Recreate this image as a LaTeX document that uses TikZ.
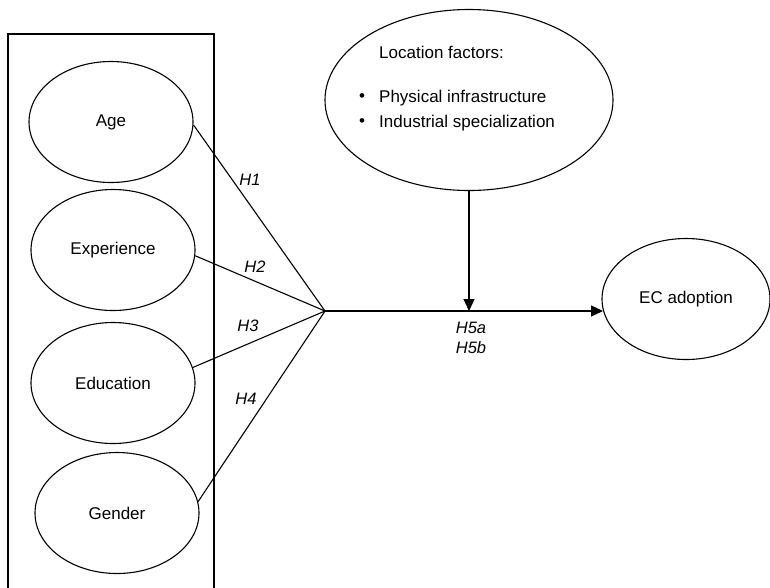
\documentclass[tikz,border=0pt]{standalone}
\usepackage{fontspec}
\setmainfont{Liberation Sans}
\usetikzlibrary{shapes.geometric,arrows.meta}
\begin{document}
\begin{tikzpicture}[x=1pt,y=-1pt,
  every node/.style={font=\fontsize{17}{20}\selectfont},
  ell/.style={draw,ellipse,inner sep=0pt,line width=1.1pt,minimum width=164pt,minimum height=121pt},
  conn/.style={line width=1.1pt},
  arr/.style={line width=1.1pt,-{Triangle[length=12pt,width=11pt]}},
  hlab/.style={font=\fontsize{16.5}{20}\selectfont\itshape}]
\useasboundingbox (0,0) rectangle (770,587);
\draw[line width=1.1pt] (8,592) -- (8,34) -- (214,34) -- (214,592);
\node[ell] (age) at (111,122) {Age};
\node[ell] (exp) at (113,250) {Experience};
\node[ell] (edu) at (113,383) {Education};
\node[ell] (gen) at (117,513) {Gender};
\node[ell,minimum width=288pt,minimum height=181pt] (loc) at (469,100) {};
\node[anchor=west,inner sep=0pt] (loct) at (379,52) {Location factors:};
\node[anchor=west,inner sep=0pt] (b1) at (379,98) {Physical infrastructure};
\node[anchor=west,inner sep=0pt] (b2) at (379,123) {Industrial specialization};
\node[inner sep=0pt] (d1) at (362,98) {\textbullet};
\node[inner sep=0pt] (d2) at (362,123) {\textbullet};
\node[ell,minimum width=168pt,minimum height=121pt] (ec) at (686,299) {EC adoption};
\coordinate (j) at (325,311);
\draw[conn] (age.-2) -- (j);
\draw[conn] (exp.-4) -- (j);
\draw[conn] (edu.11) -- (j);
\draw[conn] (gen.8) -- (j);
\draw[arr] (loc.south) -- (loc.south |- j);
\draw[arr] (j) -- (ec.188 |- j);
\node[hlab] (h1) at (250,180) {H1};
\node[hlab] (h2) at (255,267) {H2};
\node[hlab] (h3) at (248,326) {H3};
\node[hlab] (h4) at (246,399) {H4};
\node[hlab] (h5a) at (471,328) {H5a};
\node[hlab] (h5b) at (471,348) {H5b};
\end{tikzpicture}
\end{document}
